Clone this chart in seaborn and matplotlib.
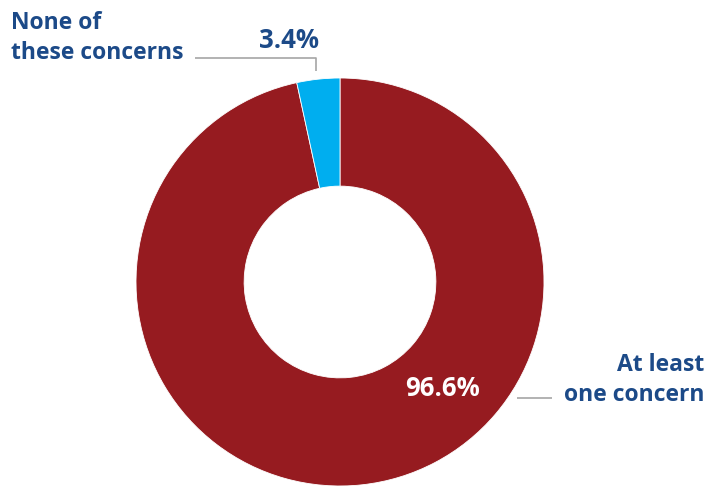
import matplotlib
matplotlib.use("Agg")
import matplotlib.pyplot as plt
import seaborn as sns

categories = ["At least\none concern", "None of\nthese concerns"]
values = [96.6, 3.4]
value_labels = ["96.6%", "3.4%"]
colors = ["#961B20", "#00AEEF"]

sns.set_theme(style="white")
plt.rcParams['font.family'] = ['Open Sans', 'DejaVu Sans']

W, H = 722, 487
fig = plt.figure(figsize=(W / 100, H / 100), dpi=100)
ax = fig.add_axes([0, 0, 1, 1])

cx, cy, R = 340, H - 282, 204
ax.pie(values, colors=colors, startangle=90, counterclock=False,
       center=(cx, cy), radius=R, frame=True,
       wedgeprops=dict(width=R * 0.53, edgecolor="white", linewidth=0.6))
ax.set_xlim(0, W)
ax.set_ylim(0, H)
ax.set_aspect("equal")
ax.axis("off")

txt = "#1C4A88"
grey = "#A6A6A6"
fs = 16.5
fs_num = 18.5

# None of these concerns
ax.text(11, H - 38, categories[1], color=txt, fontsize=fs, fontweight="bold",
        ha="left", va="center", linespacing=1.32)
ax.text(319, H - 41, value_labels[1], color=txt, fontsize=fs_num, fontweight="bold",
        ha="right", va="center")
ax.plot([195, 316, 316], [H - 58, H - 58, H - 71], color=grey, lw=1.2,
        solid_capstyle="butt")

# At least one concern
ax.text(704, H - 380, categories[0], color=txt, fontsize=fs, fontweight="bold",
        ha="right", va="center", linespacing=1.32, multialignment="right")
ax.text(442, H - 389, value_labels[0], color="white", fontsize=fs_num, fontweight="bold",
        ha="center", va="center")
ax.plot([517, 552], [H - 398, H - 398], color=grey, lw=1.2, solid_capstyle="butt")

fig.savefig("out.png", dpi=100)
